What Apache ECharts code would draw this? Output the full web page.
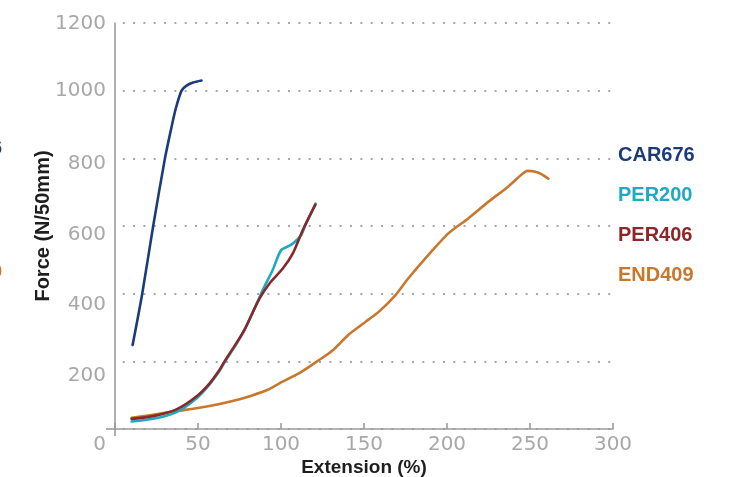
<!DOCTYPE html>
<html>
<head>
<meta charset="utf-8">
<script src="https://cdn.jsdelivr.net/npm/echarts@6/dist/echarts.min.js"></script>
<style>html,body{margin:0;padding:0;background:#fff}#c{width:738px;height:477px}</style>
</head>
<body>
<div id="c"></div>
<script>
// ---- data (Extension %, Force N/50mm) ----
const seriesNames = ['CAR676', 'PER200', 'PER406', 'END409'];
const car676 = [[10.6,248],[16.4,400],[23.0,600],[30.1,800],[33.5,880],[36.5,945],[40.1,1000],[43.1,1015],[47.1,1024],[52.1,1030]];
const per200 = [[10,22],[23,30],[37,50],[49,90],[57,132],[63,172],[66,197],[73,250],[78,293],[83,345],[89,411],[95,470],[100,528],[106,544],[110,561],[112.3,574],[115.3,609],[120.9,666]];
const per406 = [[10,30],[23,38],[37,58],[49,96],[57,135],[63,175],[66,200],[73,253],[78,293],[83,345],[87.2,387],[93.2,431],[101.2,475],[107.2,520],[113.2,589],[120.7,663]];
const end409 = [[10,33],[20,40],[37,53],[50,62],[63,74],[75,88],[83,100],[92,116],[99,135],[111,165],[123,204],[131,232],[141,280],[151,317],[159,347],[169,396],[176,441],[188,510],[201,579],[213,623],[225,672],[237,717],[244.6,751],[248.5,763],[252.6,761],[256.6,754],[261,740]];
const xTicks = [0, 50, 100, 150, 200, 250, 300];
const yTicks = [0, 200, 400, 600, 800, 1000, 1200];

const colors = {CAR676:'#1c3b7a', PER200:'#1fa9c3', PER406:'#8b2727', END409:'#c8782c'};
const labelFont = 'DejaVu Sans';
const boldFont = 'Liberation Sans';
const axisGray = '#9c9c9c';
const labelGray = '#a8a8a8';

// per-label vertical offsets of the y tick labels (as in the original)
const yLabelShift = {0:16, 200:14, 400:11, 600:9, 800:5, 1000:0, 1200:1};
const rich = {};
yTicks.forEach(v => {
  rich['v' + v] = {padding: [yLabelShift[v] * 2, 0, 0, 0], fontSize: 20, fontFamily: labelFont, fontWeight: 'normal', color: labelGray};
});

const chart = echarts.init(document.getElementById('c'), null, {renderer: 'canvas'});
const mkSeries = (name, data, z) => ({
  name, type: 'line', data, smooth: 0.25, showSymbol: false, symbol: 'none', z,
  lineStyle: {color: colors[name], width: 2.6, cap: 'round', join: 'round'},
  itemStyle: {color: colors[name]}
});

chart.setOption({
  animation: false,
  grid: {left: 115, right: 125, top: 23, bottom: 48, containLabel: false, outerBoundsMode: 'none'},
  legend: {
    orient: 'vertical', left: 608, top: 140, itemGap: 20, itemWidth: 0, itemHeight: 20,
    selectedMode: false,
    textStyle: {fontFamily: boldFont, fontWeight: 'bold', fontSize: 20},
    data: seriesNames.map(n => ({name: n, icon: 'none', textStyle: {color: colors[n]}}))
  },
  xAxis: [{
    type: 'value', min: 0, max: 300, interval: 50, position: 'bottom',
    name: 'Extension (%)', nameLocation: 'middle', nameGap: 29, nameMoveOverlap: false,
    nameTextStyle: {fontFamily: boldFont, fontWeight: 'bold', fontSize: 19, color: '#1e1e1e'},
    axisLine: {show: true, lineStyle: {color: axisGray, width: 1.6}},
    axisTick: {show: true, inside: true, length: 6, lineStyle: {color: axisGray, width: 1.6}},
    axisLabel: {
      margin: 6, fontSize: 20, fontFamily: labelFont, fontWeight: 'normal', color: labelGray,
      formatter: v => (v === 0 ? '' : String(v))
    },
    splitLine: {show: false}
  }, {
    type: 'value', min: 0, max: 300, interval: 50, position: 'bottom',
    axisLine: {show: false}, axisLabel: {show: false}, splitLine: {show: false},
    axisTick: {show: true, customValues: [0], length: 7, lineStyle: {color: axisGray, width: 1.6}}
  }],
  yAxis: [{
    type: 'value', min: 0, max: 1200, interval: 200, position: 'left',
    name: 'Force (N/50mm)', nameLocation: 'middle', nameGap: 62, nameRotate: 90, nameMoveOverlap: false,
    nameTextStyle: {fontFamily: boldFont, fontWeight: 'bold', fontSize: 20, color: '#1e1e1e'},
    axisLine: {show: true, lineStyle: {color: axisGray, width: 1.6}},
    axisTick: {show: false},
    axisLabel: {
      margin: 9, rich,
      formatter: v => '{v' + v + '|' + v + '}'
    },
    splitLine: {
      show: true,
      lineStyle: {color: '#a8a8a8', width: 2, type: [2, 8.33], dashOffset: 2.6}
    }
  }, {
    type: 'value', min: 0, max: 1200, interval: 200, position: 'left',
    axisLine: {show: false}, axisLabel: {show: false}, splitLine: {show: false},
    axisTick: {show: true, customValues: [0], length: 9, lineStyle: {color: axisGray, width: 1.6}}
  }],
  graphic: [
    {type: 'text', left: -9, top: 138, style: {text: '6', fill: colors.CAR676, font: 'bold 20px "Liberation Sans"'}},
    {type: 'text', left: -9, top: 262, style: {text: '9', fill: colors.END409, font: 'bold 20px "Liberation Sans"'}}
  ],
  series: [
    mkSeries('END409', end409, 2),
    mkSeries('PER200', per200, 3),
    mkSeries('PER406', per406, 4),
    mkSeries('CAR676', car676, 5)
  ]
});
</script>
</body>
</html>
